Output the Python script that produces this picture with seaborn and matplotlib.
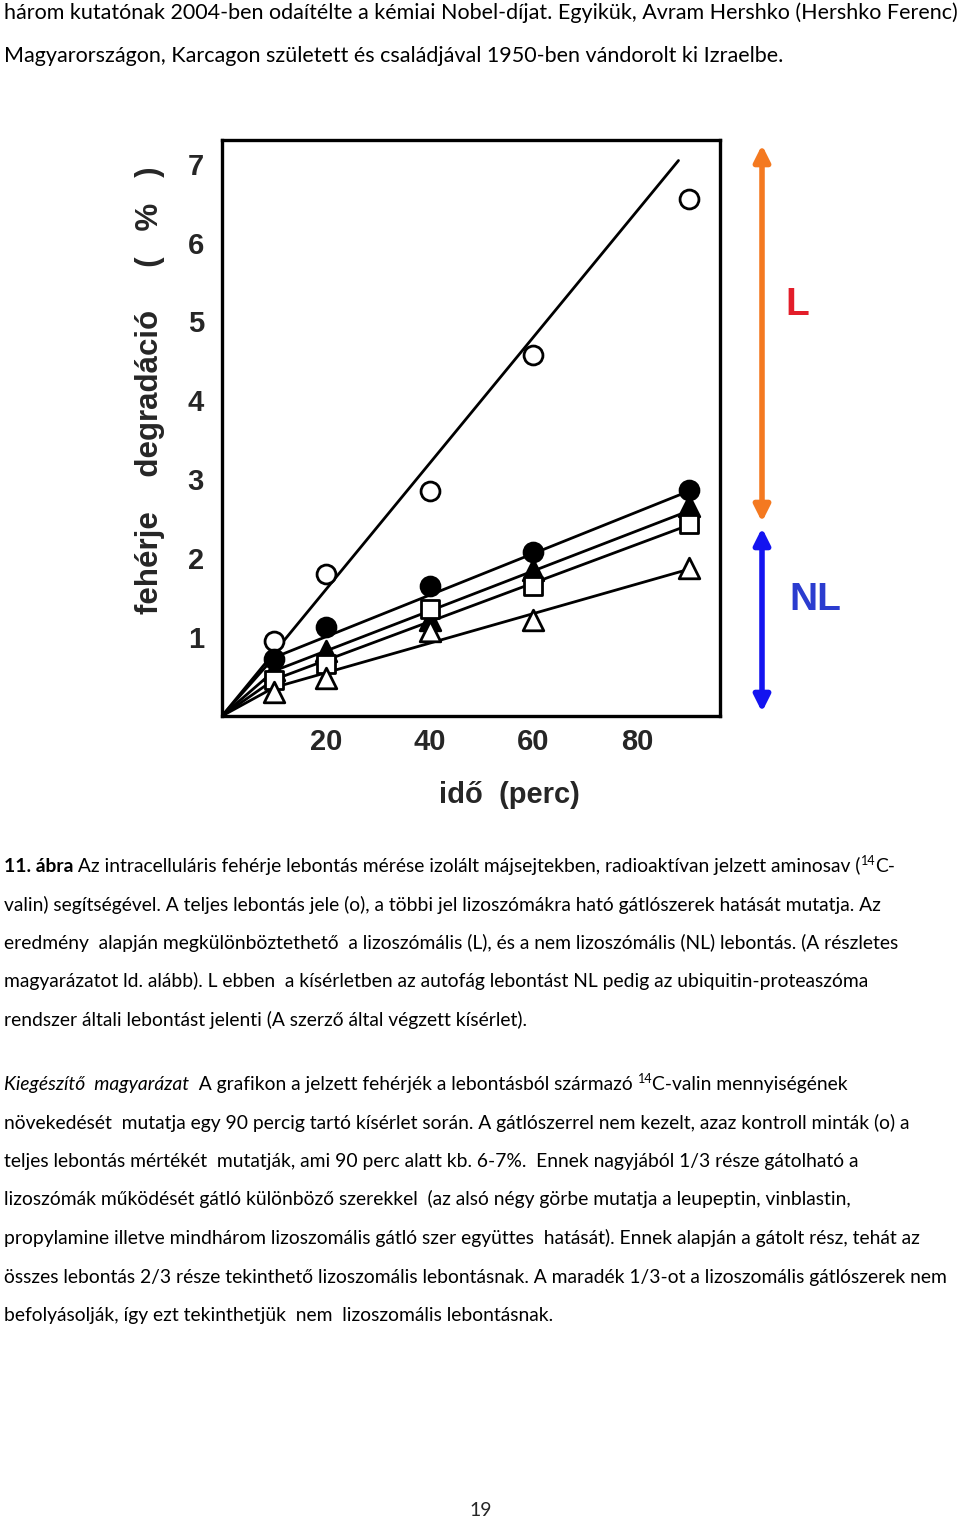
import matplotlib
matplotlib.use('Agg')
import matplotlib.pyplot as plt
import seaborn as sns
import numpy as np
import pandas as pd

# measured time points (perc)
time_min = [10, 20, 40, 60, 90]

# protein degradation (%)
control_open_circle = [0.95, 1.80, 2.85, 4.58, 6.55]
leupeptin_filled_circle = [0.72, 1.13, 1.65, 2.08, 2.87]
vinblastin_filled_triangle = [0.58, 0.83, 1.22, 1.85, 2.66]
propylamine_open_square = [0.45, 0.66, 1.35, 1.65, 2.43]
combined_open_triangle = [0.30, 0.48, 1.08, 1.22, 1.87]

# fitted lines drawn in the original figure
control_fit_x = [0, 88]
control_fit_y = [0, 7.04]
inhib_fit_x = [0, 10, 90]
leupeptin_fit = [0, 0.74, 2.85]
vinblastin_fit = [0, 0.57, 2.60]
propylamine_fit = [0, 0.46, 2.42]
combined_fit = [0, 0.36, 1.86]

x_ticks = [20, 40, 60, 80]
y_ticks = [1, 2, 3, 4, 5, 6, 7]

top_lines = [
    "három kutatónak 2004-ben odaítélte a kémiai Nobel-díjat. Egyikük, Avram Hershko (Hershko Ferenc)",
    "Magyarországon, Karcagon született és családjával 1950-ben vándorolt ki Izraelbe.",
]
caption_lines = [
    [("11. ábra", "bold"), (" Az intracelluláris fehérje lebontás mérése izolált májsejtekben, radioaktívan jelzett aminosav (", "normal"),
     ("14", "sup"), ("C-", "normal")],
    [("valin) segítségével. A teljes lebontás jele (o), a többi jel lizoszómákra ható gátlószerek hatását mutatja. Az", "normal")],
    [("eredmény  alapján megkülönböztethető  a lizoszómális (L), és a nem lizoszómális (NL) lebontás. (A részletes", "normal")],
    [("magyarázatot ld. alább). L ebben  a kísérletben az autofág lebontást NL pedig az ubiquitin-proteaszóma", "normal")],
    [("rendszer általi lebontást jelenti (A szerző által végzett kísérlet).", "normal")],
]
extra_lines = [
    [("Kiegészítő  magyarázat", "italic"), ("  A grafikon a jelzett fehérjék a lebontásból származó ", "normal"),
     ("14", "sup"), ("C-valin mennyiségének", "normal")],
    [("növekedését  mutatja egy 90 percig tartó kísérlet során. A gátlószerrel nem kezelt, azaz kontroll minták (o) a", "normal")],
    [("teljes lebontás mértékét  mutatják, ami 90 perc alatt kb. 6-7%.  Ennek nagyjából 1/3 része gátolható a", "normal")],
    [("lizoszómák működését gátló különböző szerekkel  (az alsó négy görbe mutatja a leupeptin, vinblastin,", "normal")],
    [("propylamine illetve mindhárom lizoszomális gátló szer együttes  hatását). Ennek alapján a gátolt rész, tehát az", "normal")],
    [("összes lebontás 2/3 része tekinthető lizoszomális lebontásnak. A maradék 1/3-ot a lizoszomális gátlószerek nem", "normal")],
    [("befolyásolják, így ezt tekinthetjük  nem  lizoszomális lebontásnak.", "normal")],
]

W, H = 960, 1519
sns.set_theme(style='white')
plt.rcParams['font.family'] = ['Lato', 'DejaVu Sans']

fig = plt.figure(figsize=(W / 100, H / 100), dpi=100)
fig.patch.set_facecolor('white')

# chart axes (pixel box 222..720 x 140..716)
ax = fig.add_axes([222 / W, 1 - 716 / H, 498 / W, 576 / H])
ax.set_facecolor('white')

lw = 2.0
for fx, fy in [(control_fit_x, control_fit_y), (inhib_fit_x, leupeptin_fit),
               (inhib_fit_x, vinblastin_fit), (inhib_fit_x, propylamine_fit),
               (inhib_fit_x, combined_fit)]:
    sns.lineplot(x=fx, y=fy, color='black', lw=lw, ax=ax, zorder=2)

series = [
    (control_open_circle, 'o', 'white', 185),
    (leupeptin_filled_circle, 'o', 'black', 185),
    (vinblastin_filled_triangle, '^', 'black', 220),
    (propylamine_open_square, 's', 'white', 150),
    (combined_open_triangle, '^', 'white', 220),
]
for vals, mk, face, size in series:
    sns.scatterplot(x=time_min, y=vals, marker=mk, s=size, color=face,
                    edgecolor='black', linewidth=2.0, ax=ax, zorder=3)

ax.set_xlim(0, 96)
ax.set_ylim(0, 7.3)
ax.set_xticks(x_ticks)
ax.set_yticks(y_ticks)
tick_font = ['Liberation Sans', 'DejaVu Sans']
ax.set_xticklabels([str(v) for v in x_ticks], fontsize=21, fontweight='bold', family=tick_font)
ax.set_yticklabels([str(v) for v in y_ticks], fontsize=21, fontweight='bold', family=tick_font)
ax.tick_params(direction='in', length=12, width=2.2, color='black', pad=9)
ax.tick_params(axis='y', pad=13)
for sp in ax.spines.values():
    sp.set_linewidth(2.4)
    sp.set_color('black')
    sp.set_visible(True)
ax.set_xlabel('')
ax.set_ylabel('')

ax.text(-0.145, 0.565, 'fehérje    degradáció     (   %   )', rotation=90, ha='center', va='center',
        transform=ax.transAxes, fontsize=22.5, fontweight='bold', family=tick_font)
ax.text(0.578, -0.137, 'idő  (perc)', ha='center', va='center', transform=ax.transAxes,
        fontsize=21, fontweight='bold', family=tick_font)

# L / NL arrows at the right of the plot
ax.annotate('', xy=(762, H - 145), xytext=(762, H - 522), xycoords='figure pixels',
            textcoords='figure pixels',
            arrowprops=dict(arrowstyle='<|-|>', color='#F47920', lw=4, mutation_scale=24,
                            shrinkA=0, shrinkB=0))
ax.annotate('', xy=(762, H - 528), xytext=(762, H - 712), xycoords='figure pixels',
            textcoords='figure pixels',
            arrowprops=dict(arrowstyle='<|-|>', color='#1414F0', lw=4, mutation_scale=24,
                            shrinkA=0, shrinkB=0))
fig.text(797 / W, 1 - 305 / H, 'L', color='#E31E2A', fontsize=28, fontweight='bold',
         ha='center', va='center', family=['Liberation Sans', 'DejaVu Sans'])
fig.text(815 / W, 1 - 600 / H, 'NL', color='#2B3CCF', fontsize=28, fontweight='bold',
         ha='center', va='center', family=['Liberation Sans', 'DejaVu Sans'])

renderer = fig.canvas.get_renderer()


def draw_runs(baseline, runs, size):
    x = 4
    for txt, kind in runs:
        kw = dict(fontsize=size, color='black', va='baseline', ha='left')
        yb = baseline
        if kind == 'bold':
            kw['fontweight'] = 'bold'
        elif kind == 'italic':
            kw['fontstyle'] = 'italic'
        elif kind == 'sup':
            kw['fontsize'] = size * 0.65
            yb = baseline - size * 0.5
        t = fig.text(x / W, 1 - yb / H, txt, **kw)
        x += t.get_window_extent(renderer).width


for i, line in enumerate(top_lines):
    draw_runs(19 + i * 43, [(line, 'normal')], 15.5)
for i, runs in enumerate(caption_lines):
    draw_runs(872 + i * 38.5, runs, 13.9)
for i, runs in enumerate(extra_lines):
    draw_runs(1090 + i * 38.5, runs, 13.9)

fig.text(481 / W, 1 - 1516 / H, '19', fontsize=14, ha='center', va='baseline')

fig.savefig('out.png', dpi=100, facecolor='white')
